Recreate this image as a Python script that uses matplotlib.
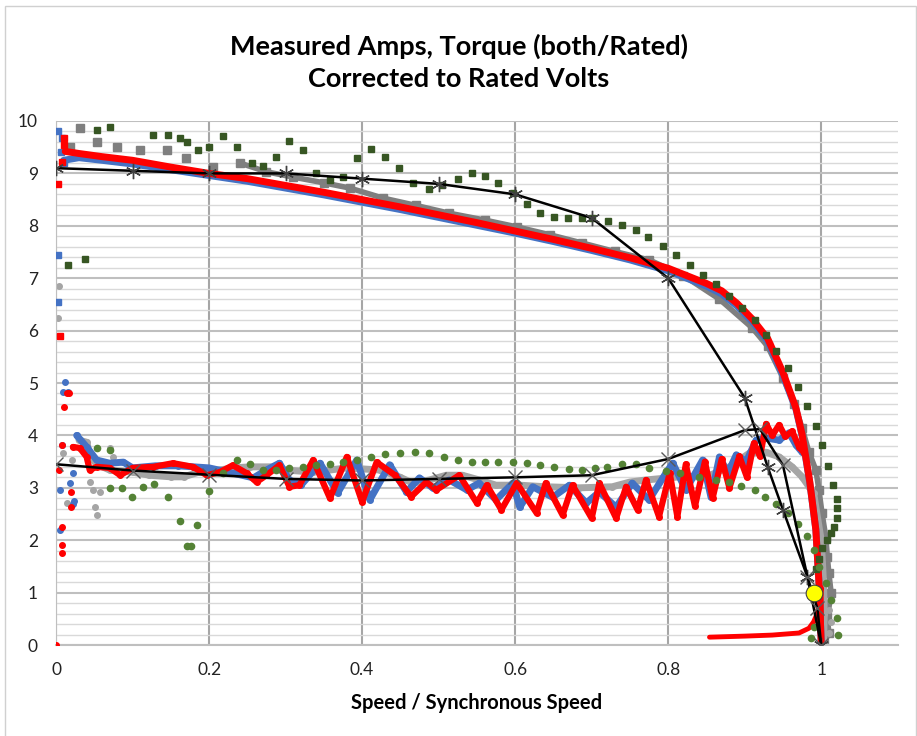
import numpy as np
import matplotlib.pyplot as plt
from matplotlib.patches import Rectangle

plt.rcParams['font.family'] = ['Lato', 'DejaVu Sans']

# ---- amps / rated (upper curves) ----
blue_amps_x = [0.01, 0.03, 0.06, 0.1, 0.15, 0.2, 0.25, 0.3, 0.35, 0.4, 0.45, 0.5, 0.55, 0.6, 0.65, 0.7, 0.75, 0.8,
               0.85, 0.87, 0.89, 0.91, 0.93, 0.95, 0.967, 0.975, 0.985, 0.993, 0.997, 1.0]
blue_amps_y = [9.25, 9.3, 9.25, 9.18, 9.07, 8.96, 8.85, 8.72, 8.59, 8.45, 8.31, 8.16, 8.01, 7.86, 7.7, 7.53, 7.35, 7.14,
               6.85, 6.7, 6.47, 6.17, 5.8, 5.15, 4.5, 4.0, 3.1, 2.2, 1.2, 0.05]
blue_amps_pts_x = [0.003, 0.008, 0.002, 0.003, 0.006, 0.01]
blue_amps_pts_y = [9.8, 9.68, 7.45, 6.55, 9.4, 9.2]

red_amps_x = [0.012, 0.03, 0.06, 0.1, 0.15, 0.2, 0.25, 0.3, 0.35, 0.4, 0.45, 0.5, 0.55, 0.6, 0.65, 0.7, 0.75, 0.8,
              0.85, 0.87, 0.89, 0.91, 0.93, 0.95, 0.967, 0.975, 0.985, 0.993, 0.997, 1.0]
red_amps_y = [9.42, 9.38, 9.32, 9.25, 9.12, 9.0, 8.9, 8.77, 8.64, 8.5, 8.36, 8.21, 8.06, 7.9, 7.74, 7.57, 7.39, 7.19,
              6.9, 6.76, 6.52, 6.22, 5.85, 5.2, 4.52, 4.02, 3.12, 2.2, 1.2, 0.05]
red_amps_pts_x = [0.002, 0.005, 0.01, 0.011, 0.008]
red_amps_pts_y = [8.8, 5.9, 9.68, 9.55, 9.22]

gray_amps_x = [0.018, 0.031, 0.053, 0.08, 0.11, 0.145, 0.17, 0.205, 0.24, 0.275, 0.31, 0.35, 0.384, 0.427, 0.47,
               0.514, 0.56, 0.602, 0.645, 0.688, 0.73, 0.775, 0.82, 0.867, 0.91, 0.93, 0.95, 0.965, 0.975, 0.984,
               0.993, 0.997, 1.001, 1.006, 1.008, 1.01, 1.013, 1.008, 1.01, 1.004]
gray_amps_y = [9.5, 9.87, 9.6, 9.5, 9.45, 9.45, 9.3, 9.12, 9.2, 9.03, 8.93, 8.82, 8.72, 8.53, 8.39,
               8.24, 8.11, 7.98, 7.83, 7.67, 7.51, 7.35, 7.05, 6.6, 6.05, 5.7, 5.1, 4.6, 4.14, 3.68,
               3.34, 2.96, 2.52, 2.06, 1.68, 1.37, 0.99, 0.53, 0.23, 0.04]
gray_amps_pts_x = [0.004, 0.003]
gray_amps_pts_y = [6.85, 6.25]

green_amps_x = [0.016, 0.038, 0.053, 0.07, 0.127, 0.146, 0.162, 0.171, 0.185, 0.2, 0.218, 0.236, 0.256, 0.27, 0.288,
                0.305, 0.323, 0.34, 0.358, 0.375, 0.393, 0.411, 0.43, 0.448, 0.467, 0.487, 0.505, 0.525, 0.543, 0.56,
                0.578, 0.597, 0.615, 0.633, 0.651, 0.669, 0.687, 0.70, 0.722, 0.74, 0.758, 0.774, 0.793, 0.81, 0.829,
                0.845, 0.862, 0.879, 0.897, 0.913, 0.928, 0.941, 0.956, 0.969, 0.982, 0.993, 1.001, 1.009, 1.016,
                1.02, 1.021, 1.02, 1.017, 1.013, 1.008, 1.001, 0.997, 0.993]
green_amps_y = [7.25, 7.37, 9.83, 9.89, 9.73, 9.73, 9.67, 9.6, 9.45, 9.5, 9.71, 9.5, 9.2, 9.14, 9.31,
                9.62, 9.45, 9.0, 8.87, 8.93, 9.3, 9.46, 9.31, 9.1, 8.82, 8.7, 8.78, 8.89, 9.0, 8.95,
                8.82, 8.63, 8.42, 8.24, 8.17, 8.15, 8.15, 8.15, 8.09, 8.02, 7.92, 7.79, 7.61, 7.44, 7.25,
                7.06, 6.88, 6.66, 6.43, 6.2, 5.92, 5.61, 5.29, 4.93, 4.56, 4.18, 3.82, 3.42, 3.05,
                2.79, 2.61, 2.42, 2.25, 2.14, 2.0, 1.85, 1.65, 1.45]

amps_test_x = [0, 0.1, 0.2, 0.3, 0.4, 0.5, 0.6, 0.7, 0.8, 0.9, 0.93, 0.95, 0.982, 1.0]
amps_test_y = [9.1, 9.05, 9.0, 9.0, 8.9, 8.8, 8.6, 8.15, 7.0, 4.72, 3.4, 2.58, 1.3, 0.0]

# ---- torque / rated (lower curves) ----
blue_torq_x = [0.027, 0.04, 0.053, 0.07, 0.088, 0.1, 0.13, 0.16, 0.2, 0.231, 0.258, 0.275, 0.292, 0.305, 0.32, 0.345,
               0.368, 0.393, 0.41, 0.436, 0.458, 0.475, 0.492, 0.514, 0.537, 0.553, 0.575, 0.597, 0.606, 0.623, 0.649,
               0.671, 0.693, 0.71, 0.732, 0.753, 0.775, 0.797, 0.806, 0.823, 0.845, 0.856, 0.867, 0.878, 0.889,
               0.902, 0.915, 0.928, 0.945, 0.958, 0.967, 0.975]
blue_torq_y = [4.0, 3.78, 3.53, 3.47, 3.49, 3.38, 3.42, 3.42, 3.38, 3.28, 3.19, 3.34, 3.47, 3.15, 3.05, 3.47,
               2.9, 3.53, 2.77, 3.44, 2.92, 3.19, 3.0, 3.15, 2.96, 3.09, 2.77, 3.09, 2.63, 3.02, 2.82,
               3.05, 2.71, 2.92, 2.63, 3.09, 2.77, 3.28, 3.47, 2.96, 3.53, 2.82, 3.59, 3.28, 3.63,
               3.5, 3.91, 3.95, 3.91, 4.05, 3.82, 3.68]
blue_torq_pts_x = [0.012, 0.009, 0.016, 0.008, 0.005, 0.018, 0.022, 0.022, 0.005, 0.024]
blue_torq_pts_y = [5.02, 4.83, 4.83, 3.82, 2.95, 3.1, 2.7, 3.28, 2.2, 2.75]

red_torq_x = [0.022, 0.031, 0.04, 0.044, 0.053, 0.07, 0.084, 0.1, 0.127, 0.153, 0.179, 0.197, 0.214, 0.231, 0.249,
              0.262, 0.275, 0.292, 0.305, 0.318, 0.336, 0.358, 0.38, 0.40, 0.419, 0.443, 0.464, 0.484, 0.497, 0.527,
              0.55, 0.563, 0.582, 0.602, 0.628, 0.64, 0.662, 0.675, 0.70, 0.71, 0.732, 0.745, 0.76, 0.771, 0.788,
              0.802, 0.812, 0.823, 0.835, 0.848, 0.858, 0.87, 0.88, 0.893, 0.903, 0.912, 0.92, 0.928, 0.936, 0.945,
              0.953, 0.962, 0.971, 0.978]
red_torq_y = [3.78, 3.76, 3.59, 3.34, 3.4, 3.38, 3.24, 3.38, 3.4, 3.47, 3.4, 3.24, 3.3, 3.43, 3.28,
              3.11, 3.24, 3.43, 3.02, 3.05, 3.53, 2.8, 3.59, 2.73, 3.49, 3.24, 2.83, 3.11, 2.96, 3.24,
              2.71, 3.05, 2.58, 3.09, 2.52, 3.09, 2.48, 3.05, 2.42, 3.09, 2.42, 3.02, 2.58, 3.15, 2.45,
              3.28, 2.45, 3.45, 2.65, 3.5, 2.8, 3.55, 3.0, 3.6, 3.2, 3.85, 3.6, 4.22, 4.0, 4.2,
              3.98, 4.08, 3.78, 3.66]
red_torq_pts_x = [0.014, 0.017, 0.011, 0.008, 0.004, 0.02, 0.02, 0.008, 0.008, 0.008, 0.0]
red_torq_pts_y = [4.81, 4.81, 4.55, 3.82, 3.34, 2.92, 2.63, 2.25, 1.9, 1.75, 0.0]

red_low_x = [0.854, 0.9, 0.936, 0.971, 0.984, 0.99, 0.995, 0.997, 1.0, 1.0]
red_low_y = [0.15, 0.17, 0.19, 0.23, 0.32, 0.44, 0.61, 0.8, 1.1, 0.0]

gray_torq_x = [0.03, 0.04, 0.045, 0.053, 0.07, 0.1, 0.122, 0.15, 0.167, 0.187, 0.213, 0.233, 0.253, 0.28, 0.3, 0.336,
               0.38, 0.423, 0.45, 0.466, 0.488, 0.51, 0.531, 0.553, 0.575, 0.606, 0.64, 0.684, 0.727, 0.75, 0.771,
               0.815, 0.85, 0.88, 0.906, 0.928, 0.945, 0.962, 0.975, 0.984, 0.99, 1.0, 1.003, 1.004, 1.003]
gray_torq_y = [3.91, 3.87, 3.6, 3.45, 3.34, 3.3, 3.24, 3.21, 3.21, 3.3, 3.34, 3.38, 3.4, 3.4, 3.34, 3.3,
               3.38, 3.34, 3.2, 3.09, 3.15, 3.24, 3.24, 3.15, 3.05, 3.05, 3.02, 3.0, 3.02, 3.11, 3.15,
               3.21, 3.21, 3.4, 3.66, 3.68, 3.59, 3.4, 3.21, 3.02, 2.9, 2.0, 1.2, 0.6, 0.0]
gray_torq_pts_x = [0.009, 0.021, 0.014, 0.044, 0.048, 0.057, 0.051, 0.053, 0.07, 0.075, 1.01, 1.013, 1.01]
gray_torq_pts_y = [3.66, 3.53, 2.71, 3.11, 2.96, 2.92, 2.63, 2.48, 3.76, 3.59, 0.67, 0.44, 0.23]

green_torq_x = [0.053, 0.07, 0.07, 0.086, 0.099, 0.114, 0.128, 0.146, 0.162, 0.171, 0.177, 0.184, 0.2, 0.218, 0.236,
                0.254, 0.27, 0.288, 0.305, 0.323, 0.34, 0.358, 0.375, 0.393, 0.412, 0.43, 0.449, 0.469, 0.487, 0.507,
                0.525, 0.543, 0.56, 0.578, 0.597, 0.615, 0.633, 0.651, 0.67, 0.687, 0.704, 0.72, 0.739, 0.758, 0.775,
                0.797, 0.815, 0.84, 0.862, 0.88, 0.895, 0.913, 0.927, 0.941, 0.956, 0.969, 0.982, 0.991, 0.997,
                1.006, 1.013, 1.02, 1.022, 0.986, 0.99]
green_torq_y = [3.76, 3.72, 3.0, 3.0, 2.83, 3.02, 3.07, 2.83, 2.37, 1.89, 1.89, 2.29, 2.94, 3.28, 3.53,
                3.45, 3.34, 3.34, 3.38, 3.4, 3.43, 3.45, 3.49, 3.53, 3.59, 3.64, 3.66, 3.68, 3.66, 3.59,
                3.53, 3.49, 3.49, 3.49, 3.49, 3.47, 3.43, 3.4, 3.36, 3.34, 3.38, 3.4, 3.45, 3.45, 3.38,
                3.32, 3.28, 3.2, 3.15, 3.11, 3.03, 2.96, 2.83, 2.69, 2.52, 2.31, 2.08, 1.81, 1.49,
                1.18, 0.86, 0.52, 0.19, 0.13, 0.35]

torq_test_x = [0, 0.1, 0.2, 0.3, 0.4, 0.5, 0.6, 0.7, 0.8, 0.9, 0.92, 0.95, 0.982, 0.995, 1.0]
torq_test_y = [3.45, 3.33, 3.25, 3.17, 3.14, 3.17, 3.2, 3.24, 3.55, 4.1, 4.12, 3.43, 1.3, 0.7, 0.0]

rated_x = [0.99]
rated_y = [1.0]

BLUE = '#4472C4'
RED = '#FF0000'
GRAY = '#7F7F7F'
LGRAY = '#A5A5A5'
DGREEN = '#375623'
GREEN = '#548235'

fig = plt.figure(figsize=(9.17, 7.36), dpi=100)
ax = fig.add_axes([0.0611, 0.1236, 0.9179, 0.712])

rnd = dict(solid_capstyle='round', solid_joinstyle='round')

# gray squares underneath (scattered squares at low speed, dense band after)
ax.plot(gray_amps_x[8:], gray_amps_y[8:], color=GRAY, lw=4, zorder=2, **rnd)
ax.plot(gray_amps_x, gray_amps_y, 's', color=GRAY, ms=5.5, zorder=2)
ax.plot(gray_amps_pts_x, gray_amps_pts_y, 'o', color=LGRAY, ms=4, zorder=2)
ax.plot(gray_torq_x, gray_torq_y, color=LGRAY, lw=5, marker='o', ms=4, zorder=2, **rnd)
ax.plot(gray_torq_pts_x, gray_torq_pts_y, 'o', color=LGRAY, ms=4, zorder=2)

# blue
ax.plot(blue_amps_x, blue_amps_y, color=BLUE, lw=5, zorder=3, **rnd)
ax.plot(blue_amps_pts_x, blue_amps_pts_y, 's', color=BLUE, ms=4, zorder=3)
ax.plot(blue_torq_x, blue_torq_y, color=BLUE, lw=5, marker='o', ms=4, zorder=3, **rnd)
ax.plot(blue_torq_pts_x, blue_torq_pts_y, 'o', color=BLUE, ms=4, zorder=3)

# red
ax.plot(red_amps_x, red_amps_y, color=RED, lw=5, zorder=4, **rnd)
ax.plot(red_amps_pts_x, red_amps_pts_y, 's', color=RED, ms=4, zorder=4)
ax.plot(red_torq_x, red_torq_y, color=RED, lw=4.5, marker='o', ms=4, zorder=4, **rnd)
ax.plot(red_torq_pts_x, red_torq_pts_y, 'o', color=RED, ms=4, zorder=4)
ax.plot(red_low_x, red_low_y, color=RED, lw=3.5, zorder=4, **rnd)

# green sparse markers
ax.plot(green_amps_x, green_amps_y, 's', color=DGREEN, ms=5, zorder=5)
ax.plot(green_torq_x, green_torq_y, 'o', color=GREEN, ms=4.5, zorder=5)

# black test lines
ax.plot(amps_test_x, amps_test_y, color='black', lw=1.8, marker=(6, 2, 0), ms=11,
        mew=1.0, mec='#404040', zorder=6)
ax.plot(torq_test_x, torq_test_y, color='black', lw=1.8, marker='x', ms=10,
        mew=1.0, mec='#595959', zorder=6)

ax.plot(rated_x, rated_y, 'o', color='#FFFF00', mec='#404040', mew=0.8, ms=12, zorder=7)

ax.set_xlim(0, 1.1)
ax.set_ylim(0, 10)
ax.set_xticks(np.arange(0, 1.01, 0.2))
ax.set_xticklabels(['0', '0.2', '0.4', '0.6', '0.8', '1'])
ax.set_yticks(np.arange(0, 11, 1))
ax.set_yticks(np.arange(0, 10.01, 0.2), minor=True)
ax.tick_params(axis='both', which='both', length=0, labelsize=12.5, colors='#222222')
ax.tick_params(axis='x', pad=12)
ax.tick_params(axis='y', pad=13)

ax.set_axisbelow(True)
ax.grid(axis='y', which='minor', color='#D9D9D9', lw=1.0)
ax.grid(axis='y', which='major', color='#BFBFBF', lw=1.5)
ax.grid(axis='x', which='major', color='#A6A6A6', lw=1.5)
for s in ['top', 'right']:
    ax.spines[s].set_visible(False)
ax.spines['left'].set_color('#BFBFBF')
ax.spines['bottom'].set_color('#BFBFBF')
ax.spines['bottom'].set_linewidth(1.5)

fig.text(0.5, 0.937, 'Measured Amps, Torque (both/Rated)', ha='center', va='center',
         fontsize=19.5, fontweight='bold')
fig.text(0.5, 0.893, 'Corrected to Rated Volts', ha='center', va='center',
         fontsize=19.5, fontweight='bold')
ax.set_xlabel('Speed / Synchronous Speed', fontsize=14.5, fontweight='bold', labelpad=11)

fig.patches.append(Rectangle((5 / 917, -0.01), 1 - 6 / 917, 1.01 - 6 / 736, transform=fig.transFigure,
                             fill=False, edgecolor='#D0D0D0', lw=1.0))

fig.savefig('out.png', dpi=100)
